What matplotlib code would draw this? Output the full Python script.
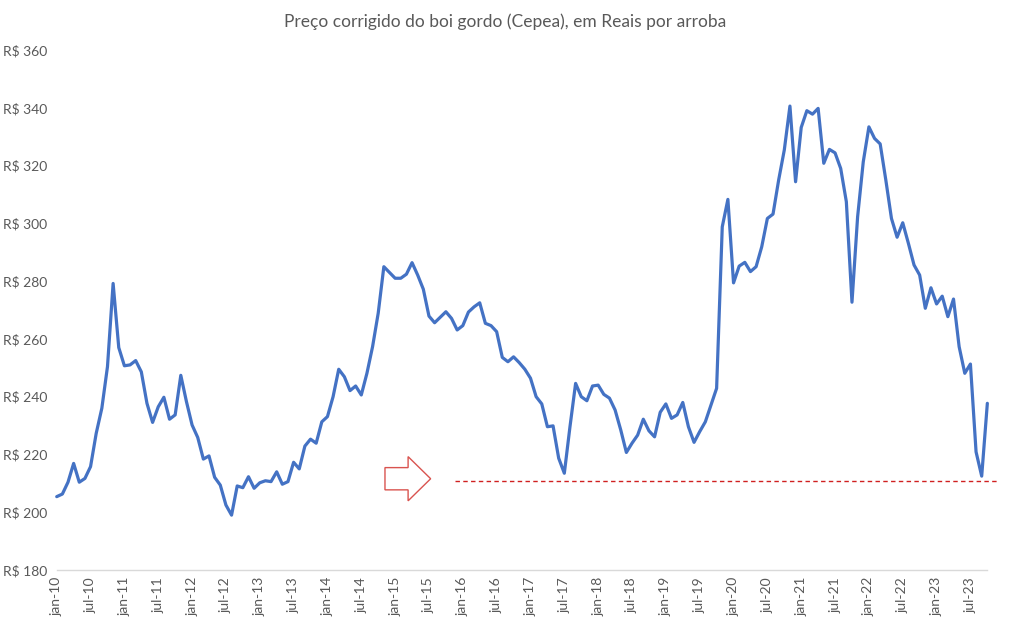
import numpy as np
import matplotlib
matplotlib.use('Agg')
import matplotlib.pyplot as plt
from matplotlib.patches import FancyArrow

plt.rcParams['font.family'] = ['Lato', 'DejaVu Sans']

TITLE = 'Preço corrigido do boi gordo (Cepea), em Reais por arroba'

# monthly values, R$/@ (jan-10 .. oct-23)
p2010 = [205.4, 206.3, 210.4, 216.9, 210.4, 211.7, 215.8, 227.3, 236.0, 250.4, 279.2, 257.0]
p2011 = [250.7, 251.0, 252.5, 248.6, 237.7, 231.1, 236.5, 239.8, 232.2, 233.7, 247.4, 238.3]
p2012 = [230.2, 225.9, 218.4, 219.5, 212.1, 209.4, 202.5, 199.0, 209.1, 208.5, 212.3, 208.3]
p2013 = [210.2, 210.9, 210.6, 214.0, 209.7, 210.6, 217.3, 215.0, 222.9, 225.3, 223.9, 231.3]
p2014 = [233.1, 240.0, 249.5, 246.9, 242.1, 243.7, 240.6, 248.1, 257.3, 268.9, 285.0, 283.0]
p2015 = [281.0, 281.0, 282.4, 286.4, 282.1, 277.2, 267.9, 265.6, 267.5, 269.4, 267.1, 263.1]
p2016 = [264.6, 269.3, 271.1, 272.5, 265.4, 264.6, 262.5, 253.6, 252.1, 253.8, 251.8, 249.5]
p2017 = [246.4, 240.0, 237.5, 229.6, 229.9, 218.7, 213.5, 229.6, 244.6, 240.0, 238.6, 243.7]
p2018 = [244.0, 240.8, 239.5, 235.4, 228.5, 220.7, 223.9, 226.7, 232.2, 228.2, 226.1, 234.6]
p2019 = [237.5, 232.5, 233.7, 238.0, 229.6, 224.2, 227.9, 231.3, 237.1, 242.9, 298.8, 308.3]
p2020 = [279.4, 285.2, 286.5, 283.3, 285.0, 291.9, 301.7, 303.2, 315.0, 325.4, 340.6, 314.4]
p2021 = [333.2, 339.0, 337.8, 339.8, 320.8, 325.6, 324.4, 319.0, 307.5, 272.7, 302.3, 321.3]
p2022 = [333.4, 329.4, 327.5, 315.0, 301.7, 295.2, 300.2, 293.1, 285.6, 282.1, 270.6, 277.7]
p2023 = [272.1, 274.8, 267.7, 273.8, 257.3, 248.1, 251.3, 220.9, 212.5, 237.7]

preco = (p2010 + p2011 + p2012 + p2013 + p2014 + p2015 + p2016
         + p2017 + p2018 + p2019 + p2020 + p2021 + p2022 + p2023)

years = list(range(10, 24))
tick_labels = []
for yy in years:
    tick_labels += [f'jan-{yy}', f'jul-{yy}']

y_ticks = [180, 200, 220, 240, 260, 280, 300, 320, 340, 360]
nivel_atual = 210.9   # red reference level

GREY = '#595959'
x = np.arange(len(preco))

fig = plt.figure(figsize=(10.11, 6.30), dpi=100)
ax = fig.add_axes([0.0561, 0.0952, 0.9205, 0.8254])

ax.plot(x, preco, color='#4472C4', lw=2.3, solid_joinstyle='round',
        solid_capstyle='round', clip_on=False)

ax.set_xlim(0, len(preco) - 1)
ax.set_ylim(180, 360)
ax.set_yticks(y_ticks)
ax.set_yticklabels([f'R$ {v}' for v in y_ticks])
xt = np.arange(0, len(preco), 6)
ax.set_xticks(xt)
ax.set_xticklabels(tick_labels[:len(xt)], rotation=90)

for s in ['top', 'right', 'left']:
    ax.spines[s].set_visible(False)
ax.spines['bottom'].set_color('#D9D9D9')
ax.spines['bottom'].set_linewidth(1)
ax.spines['bottom'].set_zorder(0)
ax.tick_params(axis='both', length=0, labelcolor=GREY, labelsize=10)
ax.tick_params(axis='y', pad=38.6)
ax.tick_params(axis='x', pad=5)
for lab in ax.get_yticklabels():
    lab.set_ha('left')

# dashed reference line and arrow
ax.hlines(nivel_atual, 70.6, 167, colors='#D02020', linestyles=(0, (3.2, 2.4)),
          lw=1.0, clip_on=False)
arrow = FancyArrow(58.2, 211.6, 8.1, 0, width=7.7, head_width=15.3,
                   head_length=4.0, length_includes_head=True,
                   fc='white', ec='#D9534F', lw=1.0)
ax.add_patch(arrow)

fig.text(0.5, 0.965, TITLE, ha='center', va='center', fontsize=12.5, color=GREY)

fig.savefig('out.png', dpi=100)
